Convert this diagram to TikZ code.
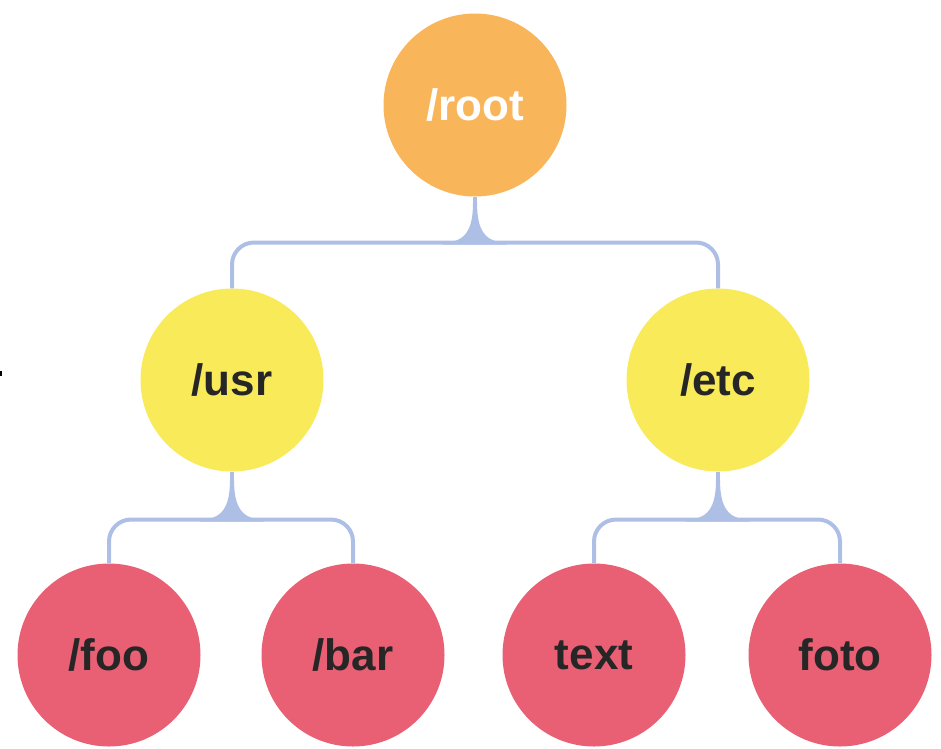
\documentclass[tikz,border=0pt]{standalone}
\usepackage{fontspec}
\setmainfont{Liberation Sans}
\definecolor{rootfill}{HTML}{F9B55A}
\definecolor{midfill}{HTML}{F9EA5A}
\definecolor{leaffill}{HTML}{E95F73}
\definecolor{labeldark}{HTML}{262626}
\definecolor{linkcol}{HTML}{AEBFE6}
% flared joint where a stem meets its branch line
\newcommand{\flarejoint}[1]{%
  \fill[fillet] ([xshift=-32pt]#1)
    .. controls ([xshift=-10pt]#1) and ([shift={(-2,-12)}]#1) .. ([shift={(-2,-40)}]#1)
    -- ([shift={(2,-40)}]#1)
    .. controls ([shift={(2,-12)}]#1) and ([xshift=10pt]#1) .. ([xshift=32pt]#1)
    -- ([shift={(32,2)}]#1) -- ([shift={(-32,2)}]#1) -- cycle;}
\begin{document}
\begin{tikzpicture}[x=1pt,y=-1pt,
  dirnode/.style={circle, minimum size=183pt, inner sep=0pt,
    font=\fontsize{44}{44}\selectfont\bfseries, text=labeldark},
  rootnode/.style={dirnode, fill=rootfill, text=white},
  midnode/.style={dirnode, fill=midfill},
  leafnode/.style={dirnode, fill=leaffill},
  link/.style={draw=linkcol, line width=4pt, rounded corners=22pt},
  fillet/.style={fill=linkcol}
]
\useasboundingbox (0,0) rectangle (941,748);

% directory nodes
\node[rootnode] (root) at (475,105) {/root};
\node[midnode]  (usr)  at (232,380) {/usr};
\node[midnode]  (etc)  at (718,380) {/etc};
\node[leafnode] (foo)  at (109,655) {/foo};
\node[leafnode] (bar)  at (353,655) {/bar};
\node[leafnode] (text) at (594,655) {text};
\node[leafnode] (foto) at (840,655) {foto};

% junction points of the branch lines
\coordinate (j0) at (475,242.5);
\coordinate (j1) at (232,519.5);
\coordinate (j2) at (718,519.5);

% branches
\draw[link] (root.south) -- (j0);
\draw[link] (usr.north) |- (j0) -| (etc.north);
\flarejoint{j0}

\draw[link] (usr.south) -- (j1);
\draw[link] (foo.north) |- (j1) -| (bar.north);
\flarejoint{j1}

\draw[link] (etc.south) -- (j2);
\draw[link] (text.north) |- (j2) -| (foto.north);
\flarejoint{j2}

% small mark at the left edge
\fill[black] (0,371) rectangle (2,376);
\end{tikzpicture}
\end{document}
